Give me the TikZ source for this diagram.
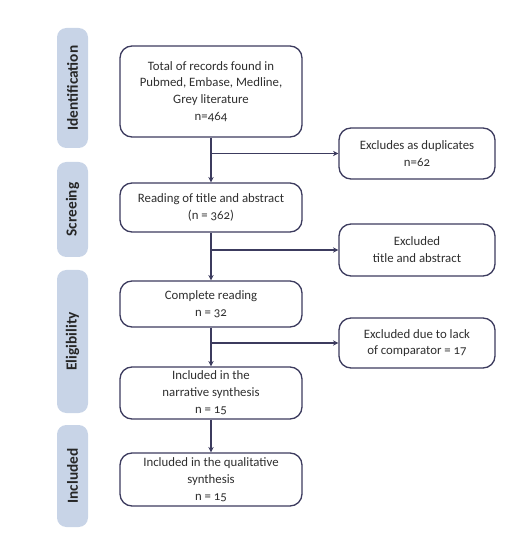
\documentclass[tikz,border=0pt]{standalone}
\usepackage{fontspec}
\setmainfont[Numbers=OldStyle]{Carlito}
\usepackage{tikz}
\usetikzlibrary{arrows.meta}
\definecolor{framec}{HTML}{3C3B5E}
\definecolor{phasec}{HTML}{C8D4E7}
\definecolor{inkc}{HTML}{2E2E2E}

\begin{document}
\begin{tikzpicture}[x=0.75pt, y=-0.75pt,
  mainbox/.style={draw=framec, line width=1pt, rounded corners=9pt, minimum width=136.5pt,
    align=center, inner sep=2pt, text=inkc, font=\fontsize{9.6}{12.6}\selectfont},
  sidebox/.style={mainbox, minimum width=117pt},
  phase/.style={fill=phasec, rounded corners=7pt, rotate=90, minimum height=23.25pt,
    inner sep=0pt, text=black!85, font=\fontsize{11.5}{13}\selectfont\bfseries},
  flow/.style={-{Stealth[length=4pt,width=4pt]}, framec, line width=1pt}]
  \useasboundingbox (0,0) rectangle (519,548);
  % phases
  \node[phase, minimum width=90pt] (idf) at (72.5,88) {Identification};
  \node[phase, minimum width=71.25pt] (scr) at (72.5,209.5) {Screeing};
  \node[phase, minimum width=107.25pt] (elg) at (72.5,341.5) {Eligibility};
  \node[phase, minimum width=76.5pt] (inc) at (72.5,476) {Included};
  % main column
  \node[mainbox, minimum height=68.25pt] (rec) at (211,91.5)
    {Total of records found in\\Pubmed, Embase, Medline,\\Grey literature\\n=464};
  \node[mainbox, minimum height=36.75pt] (read) at (211,207.5)
    {Reading of title and abstract\\(n = 362)};
  \node[mainbox, minimum height=34.5pt] (full) at (211,304)
    {Complete reading\\n = 32};
  \node[mainbox, minimum height=39pt] (narr) at (211,393)
    {Included in the\\narrative synthesis\\n = 15};
  \node[mainbox, minimum height=39.75pt] (qual) at (211,479.5)
    {Included in the qualitative\\synthesis\\n = 15};
  % exclusions
  \node[sidebox, minimum height=38.25pt] (dup) at (417,153.5)
    {Excludes as duplicates\\n=62};
  \node[sidebox, minimum height=39pt] (exta) at (417,250)
    {Excluded\\title and abstract};
  \node[sidebox, minimum height=37.5pt] (excmp) at (417,343)
    {Excluded due to lack\\of comparator = 17};
  % arrows
  \draw[flow] (rec) -- (read);
  \draw[flow] (read) -- (full);
  \draw[flow] (full) -- (narr);
  \draw[flow] (narr) -- (qual);
  \draw[flow] (rec.south |- dup.west) -- (dup.west);
  \draw[flow] (read.south |- exta.west) -- (exta.west);
  \draw[flow] (full.south |- excmp.west) -- (excmp.west);
\end{tikzpicture}
\end{document}
